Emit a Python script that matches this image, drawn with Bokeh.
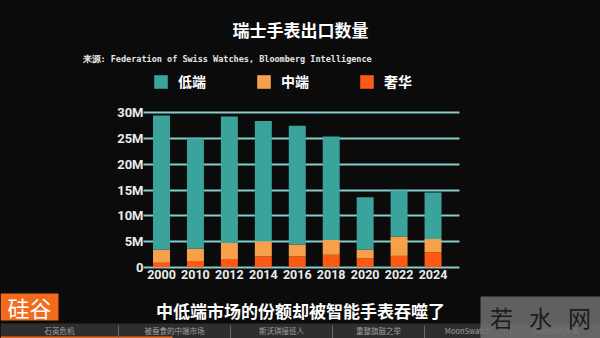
from bokeh.plotting import figure
from bokeh.models import Range1d, ColumnDataSource, Legend, LegendItem, Grid
from bokeh.core.properties import value
from bokeh.embed import file_html
from bokeh.resources import INLINE

# ---------------- data ----------------
years = ["2000", "2010", "2012", "2014", "2016", "2018", "2020", "2022", "2024"]
low = [26.1, 21.4, 24.6, 23.35, 23.1, 20.1, 10.2, 8.95, 9.0]     # 低端 (M)
mid = [2.55, 2.4, 3.1, 2.95, 2.3, 2.9, 1.65, 3.75, 2.6]          # 中端 (M)
lux = [0.85, 1.2, 1.6, 2.1, 2.1, 2.4, 1.75, 2.2, 2.9]            # 奢华 (M)
y_ticks = [0, 5, 10, 15, 20, 25, 30]
y_tick_labels = ["0", "5M", "10M", "15M", "20M", "25M", "30M"]
stack_names = ["奢华", "中端", "低端"]
legend_names = ["低端", "中端", "奢华"]
title_text = "瑞士手表出口数量"
source_text = "来源: Federation of Swiss Watches, Bloomberg Intelligence"
subtitle_text = "中低端市场的份额却被智能手表吞噬了"
nav_items = ["石英危机", "被蚕食的中端市场", "斯沃琪接班人", "重整旗鼓之举", "MoonSwatch", "Swatch的未来"]
watermark_chars = ["若", "水", "网"]

C_LOW, C_MID, C_LUX = "#3aa39b", "#f7a04b", "#fc5a14"
BG = "#0b0b0b"
CJK = value("Noto Sans CJK SC")

W, H = 600, 338
# frame covers the whole canvas; pixel layout of the chart area
X0_PX, X_STEP = 161.0, 316.0 / 9.31        # centre of first bar, px per category
Y0_PX, Y_STEP = 266.7, 5.146               # y of value 0, px per million
XR = (-X0_PX / X_STEP, (W - X0_PX) / X_STEP)
YR = (-(H - Y0_PX) / Y_STEP, Y0_PX / Y_STEP)
X_LEFT, X_RIGHT = -0.53, 8.78              # extent of the chart area (data units)


def dx(px):
    return (px - X0_PX) / X_STEP


def dy(py):
    return (Y0_PX - py) / Y_STEP


p = figure(width=W, height=H, x_range=Range1d(*XR), y_range=Range1d(*YR),
           output_backend="svg", toolbar_location=None, min_border=0,
           min_border_left=0, min_border_right=0, min_border_top=0, min_border_bottom=0,
           background_fill_color=BG, border_fill_color=BG, outline_line_color=None)
p.styles = {"background-color": BG}

src = ColumnDataSource(dict(x=list(range(len(years))), 奢华=lux, 中端=mid, 低端=low))
rs = p.vbar_stack(stack_names, x="x", width=0.5, source=src,
                  color=[C_LUX, C_MID, C_LOW], line_color=None)

# grid
p.xgrid.visible = False
p.ygrid.ticker = y_ticks
p.ygrid.grid_line_color = "#86cccb"
p.ygrid.grid_line_width = 2
if "cross_bounds" in Grid.properties():
    p.ygrid.cross_bounds = (X_LEFT, X_RIGHT)

# axes placed at fixed locations inside the full-canvas frame
p.yaxis.fixed_location = X_LEFT
p.xaxis.fixed_location = dy(268)
p.yaxis.ticker = y_ticks
p.yaxis.major_label_overrides = {t: l for t, l in zip(y_ticks, y_tick_labels)}
p.xaxis.ticker = list(range(len(years)))
p.xaxis.major_label_overrides = {i: y for i, y in enumerate(years)}
for ax in (p.xaxis, p.yaxis):
    ax.axis_line_color = None
    ax.major_tick_line_color = None
    ax.minor_tick_line_color = None
    ax.major_tick_out = 0
    ax.major_tick_in = 0
    ax.minor_tick_out = 0
    ax.major_label_text_color = "#ececec"
    ax.major_label_text_font = "Roboto"
    ax.major_label_text_font_style = "bold"
p.yaxis.major_label_text_font_size = "13px"
p.yaxis.major_label_standoff = 0
p.xaxis.major_label_text_font_size = "12.5px"
p.xaxis.major_label_standoff = 1

# title & source
p.text(x=[dx(300)], y=[dy(29)], text=[title_text], text_font=CJK, text_font_size="17px",
       text_font_style="bold", text_color="#ffffff", text_align="center",
       text_baseline="middle")
p.text(x=[dx(82)], y=[dy(58)], text=[source_text], text_font=value("DejaVu Sans Mono"),
       text_font_size="8.5px", text_font_style="bold", text_color="#e6e6e6",
       text_align="left", text_baseline="middle")

# legend
by_name = dict(zip(stack_names, rs))
legend = Legend(items=[LegendItem(label=n, renderers=[by_name[n]]) for n in legend_names],
                orientation="horizontal", location=(152, H - 91),
                glyph_width=17, glyph_height=17, label_standoff=9, spacing=49,
                padding=0, margin=0, label_height=17,
                background_fill_alpha=0, border_line_color=None,
                label_text_color="#ffffff", label_text_font="Noto Sans CJK SC",
                label_text_font_size="14px", label_text_font_style="bold")
p.add_layout(legend)

# bottom nav bar
p.quad(left=[dx(0)], right=[dx(W)], top=[dy(323)], bottom=[dy(H)], color="#2e2e2e",
       line_color=None)
p.quad(left=[dx(0)], right=[dx(172)], top=[dy(336)], bottom=[dy(H)], color="#f26a1b",
       line_color=None)
bounds = [0, 118, 230, 332, 424, 510, 600]
inner = bounds[1:-1]
p.segment(x0=[dx(b) for b in inner], x1=[dx(b) for b in inner],
          y0=[dy(325)] * len(inner), y1=[dy(338)] * len(inner),
          line_color="#6a6a6a", line_width=1)
p.text(x=[dx((a + b) / 2) for a, b in zip(bounds[:-1], bounds[1:])],
       y=[dy(330)] * len(nav_items), text=nav_items, text_font=CJK,
       text_font_size="7.5px", text_color="#a0a0a0", text_align="center",
       text_baseline="middle")

# logo
p.quad(left=[dx(0)], right=[dx(58)], top=[dy(293)], bottom=[dy(320)], color="#f26a1b",
       line_color=None)
p.text(x=[dx(29)], y=[dy(306.5)], text=["硅谷"], text_font=CJK, text_font_size="22px",
       text_color="#ffffff", text_align="center", text_baseline="middle")

# subtitle
p.text(x=[dx(300)], y=[dy(310)], text=[subtitle_text], text_font=CJK, text_font_size="17px",
       text_font_style="bold", text_color="#ffffff", text_align="center",
       text_baseline="middle")

# watermark
p.quad(left=[dx(480)], right=[dx(W)], top=[dy(296)], bottom=[dy(H)], color="#707070",
       fill_alpha=0.85, line_color=None)
p.text(x=[dx(501), dx(540), dx(579)], y=[dy(316)] * 3, text=watermark_chars,
       text_font=CJK, text_font_size="23px", text_color="#1c1c1c", text_align="center",
       text_baseline="middle")

open("out.html", "w").write(file_html(p, INLINE))
